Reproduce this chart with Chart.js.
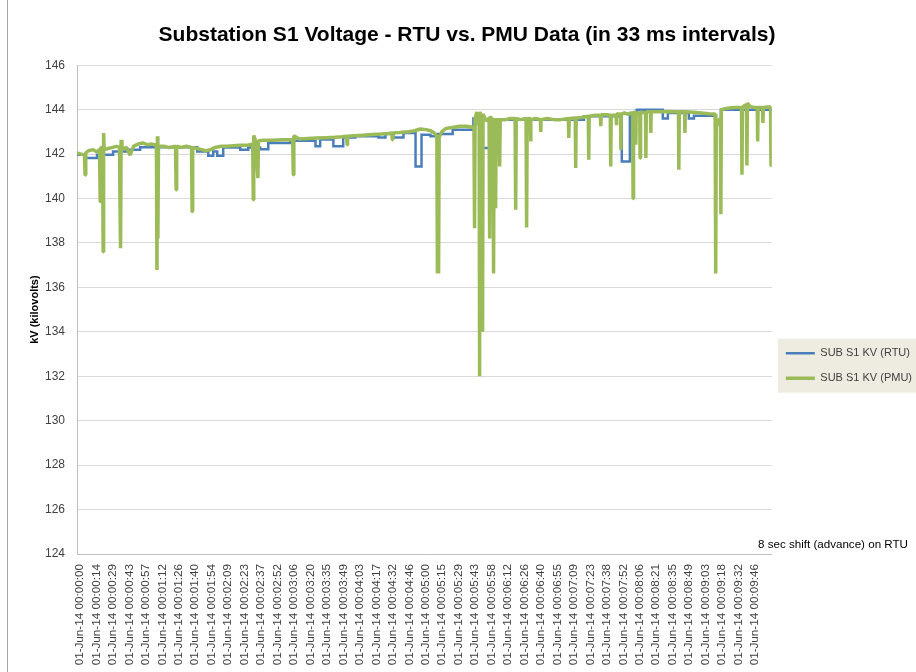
<!DOCTYPE html>
<html>
<head>
<meta charset="utf-8">
<title>Substation S1 Voltage</title>
<script src="https://cdn.jsdelivr.net/npm/chart.js@4.4.1/dist/chart.umd.min.js"></script>
<style>
  body { margin: 0; background: #fff; }
  canvas { display: block; }
</style>
</head>
<body>
<canvas id="voltage" width="916" height="672"></canvas>
<script>
// category ticks every 433 samples (33 ms each)
const tickStep = 14.289;
const tickLabels = [
  '01-Jun-14 00:00:00', '01-Jun-14 00:00:14', '01-Jun-14 00:00:29', '01-Jun-14 00:00:43',
  '01-Jun-14 00:00:57', '01-Jun-14 00:01:12', '01-Jun-14 00:01:26', '01-Jun-14 00:01:40',
  '01-Jun-14 00:01:54', '01-Jun-14 00:02:09', '01-Jun-14 00:02:23', '01-Jun-14 00:02:37',
  '01-Jun-14 00:02:52', '01-Jun-14 00:03:06', '01-Jun-14 00:03:20', '01-Jun-14 00:03:35',
  '01-Jun-14 00:03:49', '01-Jun-14 00:04:03', '01-Jun-14 00:04:17', '01-Jun-14 00:04:32',
  '01-Jun-14 00:04:46', '01-Jun-14 00:05:00', '01-Jun-14 00:05:15', '01-Jun-14 00:05:29',
  '01-Jun-14 00:05:43', '01-Jun-14 00:05:58', '01-Jun-14 00:06:12', '01-Jun-14 00:06:26',
  '01-Jun-14 00:06:40', '01-Jun-14 00:06:55', '01-Jun-14 00:07:09', '01-Jun-14 00:07:23',
  '01-Jun-14 00:07:38', '01-Jun-14 00:07:52', '01-Jun-14 00:08:06', '01-Jun-14 00:08:21',
  '01-Jun-14 00:08:35', '01-Jun-14 00:08:49', '01-Jun-14 00:09:03', '01-Jun-14 00:09:18',
  '01-Jun-14 00:09:32', '01-Jun-14 00:09:46'
];

// RTU readings: step start (s) and value (kV), already advanced by 8 s
const rtuSeconds = [
  0, 7.0, 17.4, 31.3, 43.5, 54.8, 104.3, 113.9, 118.2, 121.7, 126.9, 141.7, 148.6, 159.0,
  166.0, 185.0, 207.0, 211.0, 222.5, 231.0, 241.6, 261.6, 267.7, 274.6, 283.3, 293.8, 299.0,
  306.8, 313.0, 326.0, 344.0, 351.5, 359.0, 440.0, 472.8, 479.8, 485.8, 508.4, 512.8, 531.0,
  535.4, 554.5, 558.8, 603.0
];
const rtuKv = [
  141.97, 141.82, 141.97, 142.12, 142.2, 142.31, 142.12, 141.92, 142.12, 141.92, 142.3, 142.2, 142.3, 142.22,
  142.5, 142.6, 142.35, 142.66, 142.35, 142.75, 142.8, 142.75, 142.9, 142.75, 142.95, 141.44, 142.87,
  142.8, 142.9, 143.1, 143.6, 142.27, 143.55, 143.7, 141.67, 143.85, 144.0, 143.6, 143.85, 143.6,
  143.72, 143.5, 144.0, 144.0
];

// PMU readings (s, kV)
const pmuSeconds = [
  0.0, 3.5, 6.5, 7.0, 7.6, 10.0, 14.0, 17.0, 19.6, 20.1, 20.6, 22.2, 22.7, 23.1, 23.6, 27.0,
  31.0, 34.0, 36.9, 37.3, 37.8, 38.3, 39.0, 43.0, 46.0, 49.0, 53.0, 57.0, 61.0, 65.0, 68.9,
  69.4, 69.8, 70.2, 70.7, 75.0, 80.0, 85.5, 86.0, 86.5, 90.0, 95.0, 99.4, 99.9, 100.4, 104.0,
  108.0, 112.0, 116.0, 120.0, 125.0, 130.0, 136.0, 142.0, 148.0, 152.5, 153.0, 153.4, 155.0,
  157.0, 157.5, 162.0, 170.0, 178.0, 185.0, 187.2, 187.7, 188.2, 193.0, 200.0, 208.0, 216.0,
  224.0, 230.0, 234.0, 234.4, 234.8, 240.0, 248.0, 256.0, 264.0, 270.0, 273.3, 273.6, 274.0,
  280.0, 287.0, 293.0, 298.0, 303.0, 307.0, 310.0, 312.3, 312.8, 313.3, 313.8, 314.3, 316.5,
  320.0, 326.0, 332.0, 338.0, 344.5, 345.0, 345.5, 347.0, 348.0, 349.0, 349.4, 349.8, 351.6,
  352.0, 352.4, 355.0, 357.6, 358.1, 358.6, 361.0, 361.5, 362.0, 362.8, 363.3, 363.8, 366.3,
  366.8, 367.3, 372.0, 376.0, 380.2, 380.7, 381.2, 385.0, 389.7, 390.2, 390.7, 393.4, 393.7,
  394.0, 398.0, 402.2, 402.5, 402.8, 408.0, 414.0, 420.0, 426.4, 426.8, 427.2, 432.4, 432.8,
  433.2, 438.0, 443.7, 444.1, 444.5, 450.0, 454.2, 454.6, 455.0, 460.0, 462.8, 463.2, 463.6,
  467.8, 468.1, 468.4, 471.7, 472.0, 472.4, 475.0, 478.0, 482.2, 482.6, 483.0, 484.7, 485.0,
  485.3, 488.4, 488.7, 489.1, 493.4, 493.7, 494.1, 497.7, 498.0, 498.3, 505.0, 512.0, 518.0,
  522.0, 522.3, 522.7, 527.3, 527.6, 527.9, 535.0, 542.0, 548.0, 553.8, 554.3, 554.8, 556.0,
  558.4, 558.8, 559.2, 563.0, 568.0, 572.0, 576.7, 577.1, 577.5, 579.5, 581.0, 581.4, 581.8,
  584.0, 587.0, 590.4, 590.7, 591.1, 594.9, 595.3, 595.7, 599.0, 601.9, 602.3, 602.8
];
const pmuKv = [
  142.05, 142.0, 141.95, 141.06, 142.05, 142.15, 142.2, 142.1, 142.2, 139.86, 142.3, 142.3, 137.6, 142.95, 142.2, 142.25,
  142.3, 142.35, 142.3, 139.8, 137.76, 142.64, 142.2, 142.3, 141.95, 142.35, 142.45, 142.5, 142.42, 142.45, 142.4,
  136.78, 142.8, 138.2, 142.35, 142.35, 142.3, 142.35, 140.39, 142.35, 142.3, 142.35, 142.3, 139.41, 142.3, 142.25,
  142.2, 142.15, 142.2, 142.3, 142.35, 142.35, 142.38, 142.4, 142.4, 142.45, 139.94, 142.84, 142.6,
  140.92, 142.6, 142.62, 142.62, 142.64, 142.64, 142.64, 141.07, 142.82, 142.68, 142.7, 142.72, 142.74,
  142.76, 142.78, 142.8, 142.42, 142.8, 142.82, 142.85, 142.88, 142.9, 142.93, 142.95, 142.64, 142.95,
  142.97, 143.0, 143.05, 143.13, 143.1, 143.05, 142.95, 142.8, 136.63, 142.7, 136.63, 142.75, 143.0,
  143.15, 143.2, 143.25, 143.25, 143.2, 138.66, 143.6, 143.9, 143.3, 143.5, 132.0, 143.9, 143.5,
  134.0, 143.8, 143.5, 143.6, 138.2, 143.7, 143.5, 136.63, 143.5, 143.6, 139.56, 143.55, 143.55,
  141.44, 143.55, 143.55, 143.6, 143.6, 139.49, 143.6, 143.55, 143.6, 138.69, 143.6, 143.6, 142.57,
  143.55, 143.6, 143.55, 143.0, 143.55, 143.6, 143.55, 143.55, 143.6, 142.72, 143.6, 143.62, 141.37,
  143.62, 143.65, 143.7, 141.74, 143.7, 143.75, 143.75, 143.25, 143.77, 143.77, 143.75, 141.44, 143.75,
  143.75, 143.3, 143.8, 143.8, 142.19, 143.8, 143.85, 143.8, 143.85, 140.0, 143.9, 143.85, 142.42,
  143.85, 143.85, 141.82, 143.9, 143.85, 141.82, 143.9, 143.9, 142.95, 143.9, 143.9, 143.92, 143.9,
  143.9, 141.29, 143.9, 143.9, 142.95, 143.9, 143.88, 143.85, 143.82, 143.8, 136.63, 143.2, 143.5,
  143.6, 139.29, 144.0, 144.05, 144.08, 144.1, 144.1, 141.07, 144.1, 144.2, 144.2, 141.49, 144.3,
  144.15, 144.1, 144.1, 142.57, 144.1, 144.1, 143.4, 144.1, 144.12, 144.12, 141.49, 144.1
];

const shiftNote = '8 sec shift (advance) on RTU';

const toPoints = (xs, ys) => xs.map((x, i) => ({ x: x, y: ys[i] }));

Chart.defaults.font.family = '"Liberation Sans", Arial, sans-serif';
Chart.defaults.color = '#404040';

// frame line, legend panel and the shift note
const chartDecor = {
  id: 'chartDecor',
  beforeDraw(chart) {
    const ctx = chart.ctx;
    ctx.save();
    ctx.strokeStyle = '#a6a6a6';
    ctx.lineWidth = 1;
    ctx.beginPath();
    ctx.moveTo(7.5, 0);
    ctx.lineTo(7.5, chart.height);
    ctx.stroke();
    const boxes = chart.legend.legendHitBoxes;
    if (boxes && boxes.length) {
      const first = boxes[0];
      const last = boxes[boxes.length - 1];
      ctx.fillStyle = '#eeece1';
      ctx.fillRect(first.left - 8, first.top - 9, chart.width - first.left + 8,
        last.top + last.height - first.top + 18);
    }
    ctx.restore();
  },
  afterDraw(chart) {
    const ctx = chart.ctx;
    ctx.save();
    ctx.font = '11.6px "Liberation Sans", Arial, sans-serif';
    ctx.fillStyle = '#000';
    ctx.textBaseline = 'middle';
    ctx.fillText(shiftNote, 758, 545);
    ctx.restore();
  }
};

new Chart(document.getElementById('voltage'), {
  type: 'line',
  data: {
    datasets: [
      {
        label: 'SUB S1 KV (RTU)',
        data: toPoints(rtuSeconds, rtuKv),
        borderColor: '#4a7ebb',
        backgroundColor: '#4a7ebb',
        borderWidth: 2.5,
        stepped: 'before',
        pointRadius: 0,
        order: 2
      },
      {
        label: 'SUB S1 KV (PMU)',
        data: toPoints(pmuSeconds, pmuKv),
        borderColor: '#9bbb59',
        backgroundColor: '#9bbb59',
        borderWidth: 3.5,
        borderJoinStyle: 'bevel',
        pointRadius: 0,
        tension: 0,
        order: 1
      }
    ]
  },
  options: {
    responsive: false,
    animation: false,
    layout: { padding: { left: 12, right: -6, top: 0, bottom: 0 } },
    plugins: {
      title: {
        display: true,
        text: 'Substation S1 Voltage - RTU vs. PMU Data (in 33 ms intervals)',
        color: '#000',
        font: { size: 21, weight: 'bold' },
        padding: { top: 23, bottom: 17 }
      },
      legend: {
        position: 'right',
        reverse: true,
        title: { display: true, text: '', padding: { top: 45, bottom: 0 } },
        labels: {
          usePointStyle: true,
          pointStyle: 'line',
          pointStyleWidth: 29,
          padding: 14,
          color: '#404040',
          font: { size: 11 }
        }
      },
      tooltip: { enabled: false }
    },
    scales: {
      x: {
        type: 'linear',
        min: 0,
        max: 603,
        grid: { display: false },
        border: { display: true, color: '#bfbfbf' },
        afterBuildTicks: scale => {
          scale.ticks = tickLabels.map((_, i) => ({ value: i * tickStep }));
        },
        afterFit: scale => { scale.height = 118; },
        ticks: {
          autoSkip: false,
          minRotation: 90,
          maxRotation: 90,
          padding: 2,
          labelOffset: 3,
          font: { size: 11.7 },
          callback: (value, index) => tickLabels[index]
        }
      },
      y: {
        min: 124,
        max: 146,
        grid: { color: '#d9d9d9', drawTicks: false },
        border: { display: true, color: '#bfbfbf' },
        afterFit: scale => { scale.width = 65; },
        ticks: { stepSize: 2, padding: 12, font: { size: 12 } },
        title: {
          display: true,
          text: 'kV (kilovolts)',
          color: '#000',
          font: { size: 11, weight: 'bold' },
          padding: { top: 16, bottom: 4 }
        }
      }
    }
  },
  plugins: [chartDecor]
});
</script>
</body>
</html>
